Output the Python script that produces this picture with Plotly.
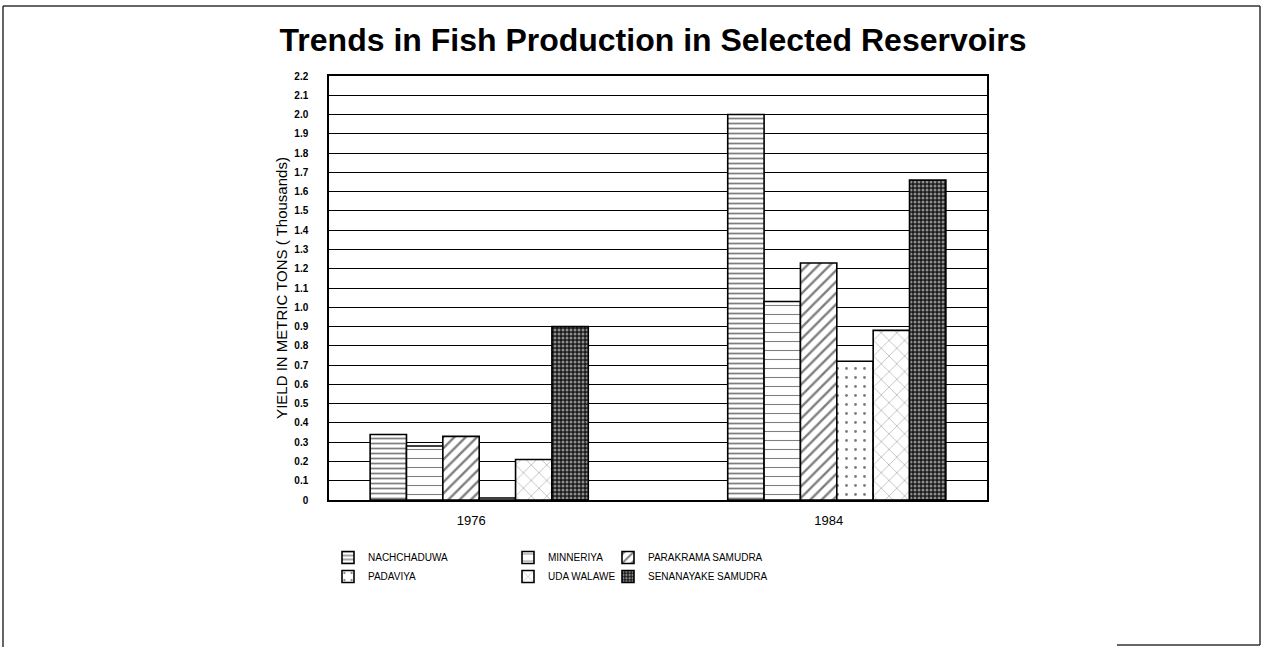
import plotly.graph_objects as go

years = ["1976", "1984"]
reservoirs = ["NACHCHADUWA", "MINNERIYA", "PARAKRAMA SAMUDRA",
              "PADAVIYA", "UDA WALAWE", "SENANAYAKE SAMUDRA"]
nachchaduwa = [0.34, 2.00]
minneriya = [0.28, 1.03]
parakrama = [0.33, 1.23]
padaviya = [0.01, 0.72]
uda_walawe = [0.21, 0.88]
senanayake = [0.90, 1.66]
values = [nachchaduwa, minneriya, parakrama, padaviya, uda_walawe, senanayake]

ytick_vals = [i / 10 for i in range(23)]
ytick_text = ["0"] + [f"{v:.1f}" for v in ytick_vals[1:]]

patterns = [
    dict(shape="-", size=5, solidity=0.35, fgcolor="black", bgcolor="white"),
    dict(shape="-", size=9, solidity=0.12, fgcolor="black", bgcolor="white"),
    dict(shape="/", size=8, solidity=0.3, fgcolor="black", bgcolor="white"),
    dict(shape=".", size=9, solidity=0.08, fgcolor="black", bgcolor="white"),
    dict(shape="x", size=11, solidity=0.08, fgcolor="black", bgcolor="white"),
    dict(shape=".", size=4, solidity=0.45, fgcolor="white", bgcolor="#1a1a1a"),
]
legend_ids = ["legend", "legend2", "legend3", "legend", "legend2", "legend3"]

W, H = 1267, 647
PL, PR, PT, PB = 329, 987, 76, 500          # plot box in page pixels
L, R, T, B = PL, W - PR, PT, H - PB
pw, ph = W - L - R, H - T - B


def px(x):
    return (x - L) / pw


def py(y):
    return (H - B - y) / ph


fig = go.Figure()
for name, vals, pat, lg in zip(reservoirs, values, patterns, legend_ids):
    fig.add_trace(go.Bar(
        x=years, y=vals, name=name, legend=lg,
        marker=dict(color="white", line=dict(color="black", width=1.6), pattern=pat),
    ))

legend_font = dict(family="Liberation Sans", size=10, color="black")
common_leg = dict(orientation="v", xanchor="left", yanchor="top", y=py(543),
                  bgcolor="rgba(0,0,0,0)", font=legend_font, tracegroupgap=0,
                  itemwidth=30)

fig.update_layout(
    width=W, height=H,
    margin=dict(l=L, r=R, t=T, b=B, autoexpand=False),
    paper_bgcolor="white", plot_bgcolor="white",
    title=dict(text="Trends in Fish Production in Selected Reservoirs",
               font=dict(family="Liberation Sans", size=32, color="black", weight="bold"),
               x=653 / W, xanchor="center", y=1 - 40 / H, yanchor="middle"),
    barmode="group", bargap=0.39, bargroupgap=0,
    legend=dict(x=px(328), **common_leg),
    legend2=dict(x=px(508), **common_leg),
    legend3=dict(x=px(608), **common_leg),
    xaxis=dict(type="category", range=[-0.42, 1.42], showgrid=False,
               showline=True, linecolor="black", linewidth=1.5, mirror=True,
               ticks="", tickfont=dict(family="Liberation Sans", size=13, color="black"),
               ticklabelstandoff=8, ticklabelshift=-8),
    yaxis=dict(range=[0, 2.2], tickvals=ytick_vals, ticktext=ytick_text,
               showgrid=True, gridcolor="black", gridwidth=1,
               showline=True, linecolor="black", linewidth=1.5, mirror=True,
               ticks="", ticklabelstandoff=17,
               tickfont=dict(family="Liberation Sans", size=10, color="black", weight="bold"),
               title=dict(text="YIELD IN METRIC TONS ( Thousands)", standoff=3,
                          font=dict(family="Liberation Sans", size=15, color="black"))),
    showlegend=True,
)

frame = dict(type="line", xref="paper", yref="paper", line=dict(color="#333", width=1.5))
fig.add_shape(x0=px(3), x1=px(1260), y0=py(6), y1=py(6), **frame)
fig.add_shape(x0=px(3), x1=px(3), y0=py(6), y1=py(647), **frame)
fig.add_shape(x0=px(1260), x1=px(1260), y0=py(6), y1=py(645), **frame)
fig.add_shape(x0=px(1117), x1=px(1260), y0=py(645), y1=py(645), **frame)

fig.write_html("out.html", config={"displayModeBar": False},
               post_script="document.body.style.margin='0px';document.body.style.overflow='hidden';")
